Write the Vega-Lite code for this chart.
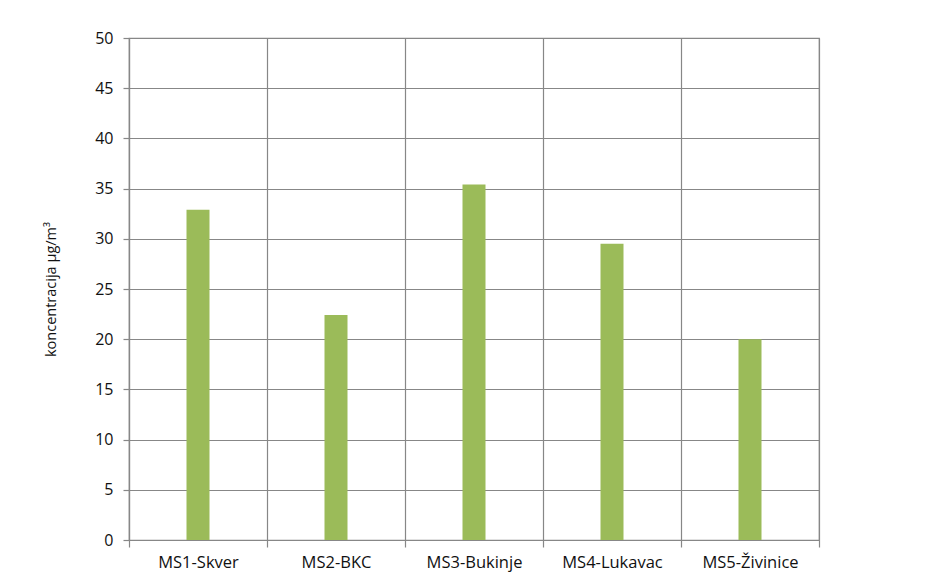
{
  "$schema": "https://vega.github.io/schema/vega-lite/v6.json",
  "autosize": "none",
  "width": 690,
  "height": 502,
  "padding": {"left": 129, "top": 38, "right": 108, "bottom": 42},
  "background": "white",
  "data": {
    "values": [
      {"station": "MS1-Skver", "value": 32.9},
      {"station": "MS2-BKC", "value": 22.4},
      {"station": "MS3-Bukinje", "value": 35.4},
      {"station": "MS4-Lukavac", "value": 29.5},
      {"station": "MS5-Živinice", "value": 20.0}
    ]
  },
  "mark": {"type": "bar", "width": 23, "color": "#9BBB59"},
  "encoding": {
    "x": {
      "field": "station",
      "type": "nominal",
      "sort": null,
      "title": null,
      "scale": {"paddingInner": 0, "paddingOuter": 0},
      "axis": {
        "labelAngle": 0,
        "tickBand": "extent",
        "grid": true,
        "gridColor": "#878787",
        "gridWidth": 1.2,
        "tickColor": "#878787",
        "tickWidth": 1.2,
        "tickSize": 7,
        "domainColor": "#878787",
        "domainWidth": 1.2,
        "labelPadding": 7,
        "labelFont": "Open Sans",
        "labelFontSize": 16.5,
        "labelColor": "#111111"
      }
    },
    "y": {
      "field": "value",
      "type": "quantitative",
      "title": "koncentracija µg/m³",
      "scale": {"domain": [0, 50], "nice": false},
      "axis": {
        "values": [0, 5, 10, 15, 20, 25, 30, 35, 40, 45, 50],
        "grid": true,
        "gridColor": "#878787",
        "gridWidth": 1.2,
        "tickColor": "#878787",
        "tickWidth": 1.2,
        "tickSize": 6,
        "domainColor": "#878787",
        "domainWidth": 1.2,
        "labelPadding": 10,
        "labelFont": "Open Sans",
        "labelFontSize": 16,
        "labelColor": "#111111",
        "titleFont": "Open Sans",
        "titleFontSize": 14.5,
        "titleFontWeight": "normal",
        "titleColor": "#111111",
        "titlePadding": 36
      }
    }
  },
  "config": {
    "view": {"stroke": "#878787", "strokeWidth": 1.2}
  }
}
